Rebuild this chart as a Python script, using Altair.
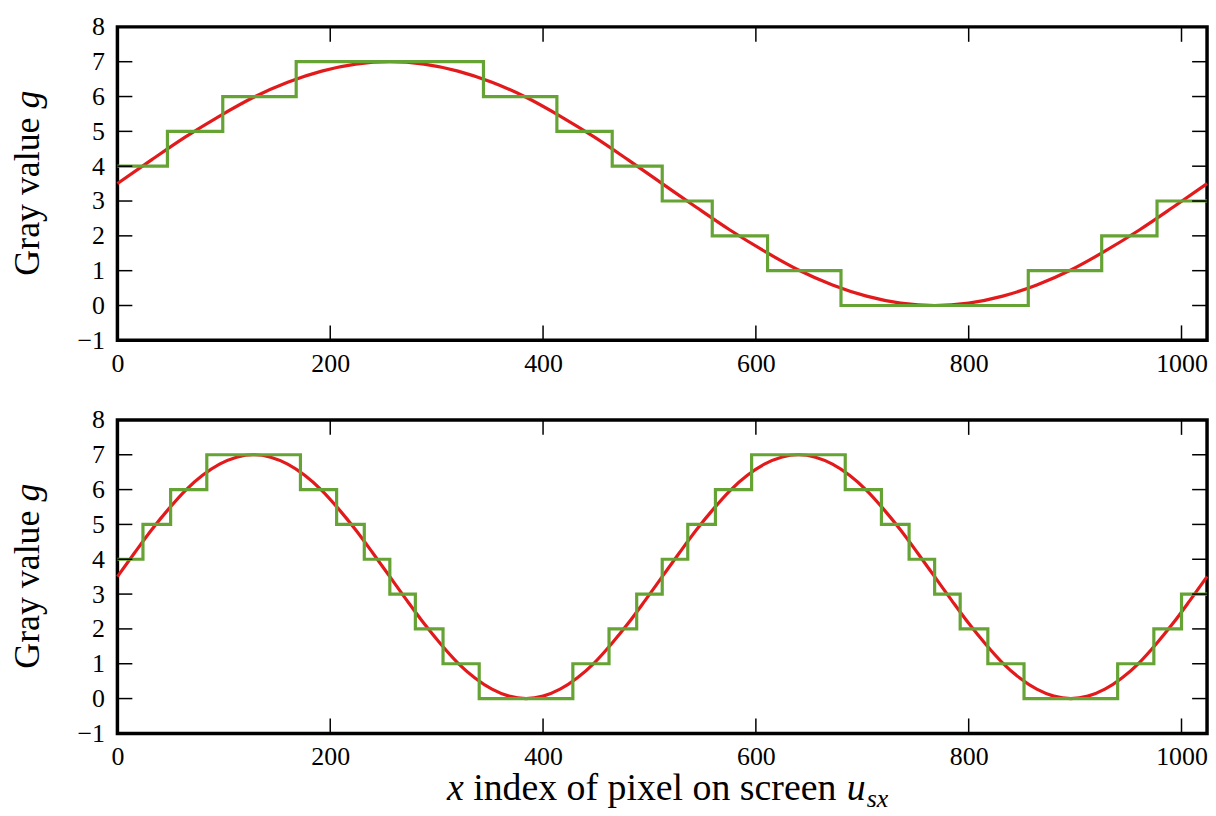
import altair as alt
import pandas as pd

RED = "#e31a1c"
GREEN = "#66a335"
FONT = "Liberation Serif"

# smooth curve samples
curve_top_x = [0, 32, 64, 96, 128, 160, 192, 224, 256, 288, 320, 352, 384, 416, 448, 480, 512,
               544, 576, 608, 640, 672, 704, 736, 768, 800, 832, 864, 896, 928, 960, 992, 1024]
curve_top_g = [3.5, 4.18, 4.84, 5.44, 5.98, 6.41, 6.73, 6.93, 7.0, 6.93, 6.73, 6.41, 5.98, 5.44, 4.84, 4.18, 3.5,
               2.82, 2.16, 1.56, 1.02, 0.59, 0.27, 0.07, 0.0, 0.07, 0.27, 0.59, 1.02, 1.56, 2.16, 2.82, 3.5]

curve_bot_x = [0, 16, 32, 48, 64, 80, 96, 112, 128, 144, 160, 176, 192, 208, 224, 240, 256,
               272, 288, 304, 320, 336, 352, 368, 384, 400, 416, 432, 448, 464, 480, 496, 512,
               528, 544, 560, 576, 592, 608, 624, 640, 656, 672, 688, 704, 720, 736, 752, 768,
               784, 800, 816, 832, 848, 864, 880, 896, 912, 928, 944, 960, 976, 992, 1008, 1024]
curve_bot_g = [3.5, 4.18, 4.84, 5.44, 5.98, 6.41, 6.73, 6.93, 7.0, 6.93, 6.73, 6.41, 5.98, 5.44, 4.84, 4.18, 3.5,
               2.82, 2.16, 1.56, 1.02, 0.59, 0.27, 0.07, 0.0, 0.07, 0.27, 0.59, 1.02, 1.56, 2.16, 2.82, 3.5,
               4.18, 4.84, 5.44, 5.98, 6.41, 6.73, 6.93, 7.0, 6.93, 6.73, 6.41, 5.98, 5.44, 4.84, 4.18, 3.5,
               2.82, 2.16, 1.56, 1.02, 0.59, 0.27, 0.07, 0.0, 0.07, 0.27, 0.59, 1.02, 1.56, 2.16, 2.82, 3.5]

# quantized (step) gray values: step start positions and levels
step_top_x = [0, 47, 99, 168, 344, 413, 465, 512, 559, 611, 680, 856, 925, 977, 1024]
step_top_g = [4, 5, 6, 7, 6, 5, 4, 3, 2, 1, 0, 1, 2, 3, 3]

step_bot_x = [0, 24, 50, 84, 172, 206, 232, 256, 280, 306, 340, 428, 462, 488, 512,
              536, 562, 596, 684, 718, 744, 768, 792, 818, 852, 940, 974, 1000, 1024]
step_bot_g = [4, 5, 6, 7, 6, 5, 4, 3, 2, 1, 0, 1, 2, 3, 4,
              5, 6, 7, 6, 5, 4, 3, 2, 1, 0, 1, 2, 3, 3]

x_ticks = [0, 200, 400, 600, 800, 1000]
y_ticks = [-1, 0, 1, 2, 3, 4, 5, 6, 7, 8]

W, H = 1095, 315
TL = 15

xscale = alt.Scale(domain=[0, 1024], nice=False, zero=False)
yscale = alt.Scale(domain=[-1, 8], nice=False, zero=False)

axis_common = dict(title=None, ticks=False, domain=False, grid=False, labelFlush=False,
                   labelOverlap=False, format="d", labelFont=FONT, labelFontSize=26,
                   labelColor="black")
xaxis = alt.Axis(values=x_ticks, labelPadding=10, **axis_common)
yaxis = alt.Axis(values=y_ticks, labelPadding=13, **axis_common)

X = lambda: alt.X("x:Q", scale=xscale, axis=xaxis)
Y = lambda: alt.Y("g:Q", scale=yscale, axis=yaxis)


def panel(cx, cg, sx, sg, xtitle):
    cdf = pd.DataFrame({"x": cx, "g": cg})
    sdf = pd.DataFrame({"x": sx, "g": sg})
    red = alt.Chart(cdf).mark_line(color=RED, strokeWidth=3.2, interpolate="monotone").encode(x=X(), y=Y())
    green = alt.Chart(sdf).mark_line(color=GREEN, strokeWidth=3.2, interpolate="step-after").encode(x=X(), y=Y())
    xt = pd.DataFrame({"x": x_ticks})
    yt = pd.DataFrame({"g": y_ticks})
    tick_style = dict(color="black", strokeWidth=1.5)
    xt_bot = alt.Chart(xt).mark_rule(**tick_style).encode(x=X(), y=alt.value(H - TL), y2=alt.value(H))
    xt_top = alt.Chart(xt).mark_rule(**tick_style).encode(x=X(), y=alt.value(0), y2=alt.value(TL))
    yt_left = alt.Chart(yt).mark_rule(**tick_style).encode(y=Y(), x=alt.value(0), x2=alt.value(TL))
    yt_right = alt.Chart(yt).mark_rule(**tick_style).encode(y=Y(), x=alt.value(W - TL), x2=alt.value(W))

    # y title: "Gray value g" with italic g
    yt1 = alt.Chart(pd.DataFrame({"t": ["Gray value"]})).mark_text(
        font=FONT, fontSize=36, angle=270, align="left", baseline="alphabetic", color="black"
    ).encode(text="t:N", x=alt.value(-79), y=alt.value(250))
    yt2 = alt.Chart(pd.DataFrame({"t": ["g"]})).mark_text(
        font=FONT, fontSize=36, fontStyle="italic", angle=270, align="left", baseline="alphabetic", color="black"
    ).encode(text="t:N", x=alt.value(-79), y=alt.value(82))
    layers = [red, green, xt_bot, xt_top, yt_left, yt_right, yt1, yt2]

    if xtitle:
        mid = 540
        t_mid = alt.Chart(pd.DataFrame({"t": ["index of pixel on screen"]})).mark_text(
            font=FONT, fontSize=38, align="center", baseline="alphabetic", color="black"
        ).encode(text="t:N", x=alt.value(mid), y=alt.value(382))
        t_x = alt.Chart(pd.DataFrame({"t": ["x"]})).mark_text(
            font=FONT, fontSize=38, fontStyle="italic", align="right", baseline="alphabetic", color="black"
        ).encode(text="t:N", x=alt.value(mid - 192), y=alt.value(382))
        t_u = alt.Chart(pd.DataFrame({"t": ["u"]})).mark_text(
            font=FONT, fontSize=38, fontStyle="italic", align="left", baseline="alphabetic", color="black"
        ).encode(text="t:N", x=alt.value(mid + 193), y=alt.value(382))
        t_sx = alt.Chart(pd.DataFrame({"t": ["sx"]})).mark_text(
            font=FONT, fontSize=26, fontStyle="italic", align="left", baseline="alphabetic", color="black"
        ).encode(text="t:N", x=alt.value(mid + 213), y=alt.value(389))
        layers += [t_mid, t_x, t_u, t_sx]

    return alt.layer(*layers).properties(width=W, height=H)


top = panel(curve_top_x, curve_top_g, step_top_x, step_top_g, False)
bot = panel(curve_bot_x, curve_bot_g, step_bot_x, step_bot_g, True)

chart = alt.vconcat(top, bot, spacing=27).properties(
    padding={"left": 8, "top": 10, "right": 0, "bottom": 0},
    background="white",
).configure_view(
    stroke="black", strokeWidth=3.5
)

chart.save("out.html", embed_options={"renderer": "svg", "actions": False})
